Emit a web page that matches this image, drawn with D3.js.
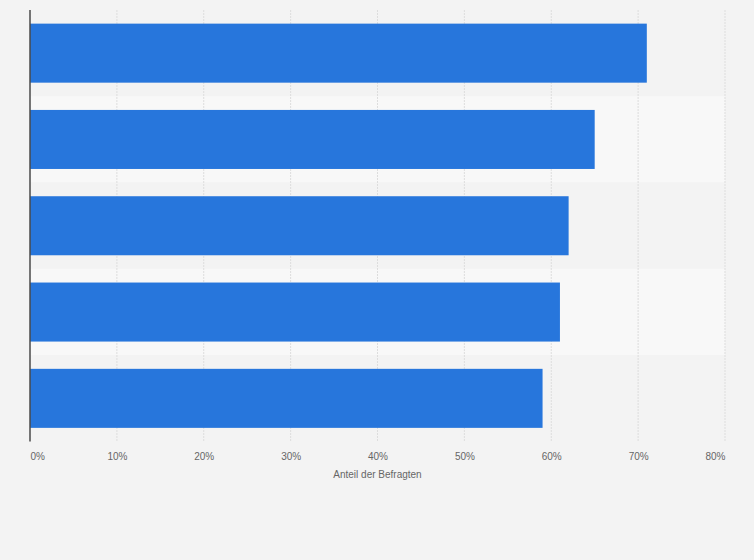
<!DOCTYPE html>
<html>
<head>
<meta charset="utf-8">
<script src="https://cdn.jsdelivr.net/npm/d3@7"></script>
<style>
  body { margin: 0; background: #f3f3f3; }
  svg { display: block; font-family: "Liberation Sans", Arial, sans-serif; }
</style>
</head>
<body>
<svg width="754" height="560"></svg>
<script>
// Kategorien (keine Beschriftung im Original sichtbar)
const categories = ['A', 'B', 'C', 'D', 'E'];
const values = [71, 65, 62, 61, 59];
const xTicks = [0, 10, 20, 30, 40, 50, 60, 70, 80];
const axisTitle = 'Anteil der Befragten';

const width = 754, height = 560;
const margin = {top: 10, right: 29, bottom: 118.5, left: 30};
const plotW = width - margin.left - margin.right;
const plotH = height - margin.top - margin.bottom;

const svg = d3.select('svg');

svg.append('rect')
    .attr('width', width)
    .attr('height', height)
    .attr('fill', '#f3f3f3');

const g = svg.append('g')
    .attr('transform', `translate(${margin.left},${margin.top})`);

const xScale = d3.scaleLinear().domain([0, 80]).range([0, plotW]);
const yScale = d3.scaleBand().domain(categories).range([0, plotH]).paddingInner(0.316).paddingOuter(0.158);
const stripe = d3.scaleBand().domain(categories).range([0, plotH]); // ganze Zeilen

// abwechselnde Zeilenhintergründe
g.selectAll('.stripe')
    .data(categories)
    .enter()
    .append('rect')
    .attr('x', 0)
    .attr('y', d => stripe(d))
    .attr('width', plotW)
    .attr('height', stripe.bandwidth())
    .attr('fill', (d, i) => i % 2 ? '#f8f8f8' : '#f3f3f3');

// Gitternetz
g.selectAll('.grid')
    .data(xTicks.slice(1))
    .enter()
    .append('line')
    .attr('x1', d => xScale(d))
    .attr('x2', d => xScale(d))
    .attr('y1', 0)
    .attr('y2', plotH)
    .attr('stroke', '#dddddd')
    .attr('stroke-width', 1)
    .attr('stroke-dasharray', '2,1');

// Balken
g.selectAll('.bar')
    .data(values)
    .enter()
    .append('rect')
    .classed('bar', true)
    .attr('x', 0)
    .attr('y', (d, i) => yScale(categories[i]))
    .attr('width', d => xScale(d))
    .attr('height', yScale.bandwidth())
    .attr('fill', '#2776dc');

// y-Achse (nur Linie)
g.append('line')
    .attr('x1', 0).attr('x2', 0)
    .attr('y1', 0).attr('y2', plotH)
    .attr('stroke', '#4a4a4a')
    .attr('stroke-width', 1.5);

// x-Achse
const xAxis = g.append('g')
    .attr('transform', `translate(0,${plotH})`)
    .call(d3.axisBottom(xScale).tickValues(xTicks).tickFormat(d => d + '%').tickSize(0).tickPadding(11));

xAxis.select('.domain').remove();
xAxis.selectAll('text')
    .attr('fill', '#666')
    .style('font-size', '10px')
    .attr('text-anchor', (d, i) => i === 0 ? 'start' : (i === xTicks.length - 1 ? 'end' : 'middle'));

g.append('text')
    .attr('x', plotW / 2)
    .attr('y', plotH + 36)
    .attr('text-anchor', 'middle')
    .attr('fill', '#666')
    .style('font-size', '10px')
    .text(axisTitle);
</script>
</body>
</html>
